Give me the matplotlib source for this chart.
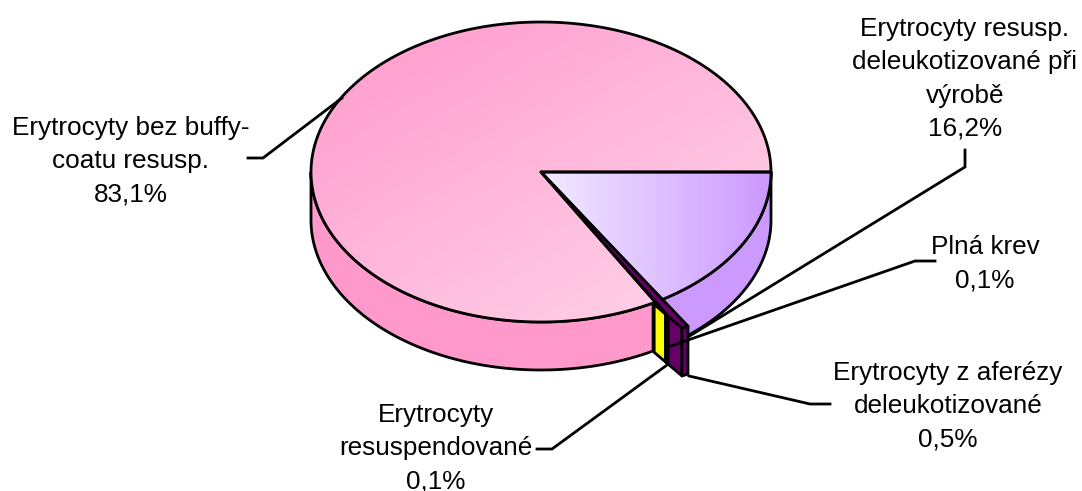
import matplotlib
matplotlib.use("Agg")
import matplotlib.pyplot as plt
from matplotlib.colors import LinearSegmentedColormap
from matplotlib.patches import Polygon
import numpy as np

plt.rcParams["font.family"] = ["Liberation Sans", "DejaVu Sans"]

# clockwise from 3 o'clock, in percent
slice_names = ["deleukotizovane", "plna krev", "afereza", "resuspendovane", "bez buffy-coatu"]
slice_values = [16.2, 0.1, 0.5, 0.1, 83.1]

labels = [
    "Erytrocyty bez buffy-\ncoatu resusp.\n83,1%",
    "Erytrocyty resusp.\ndeleukotizované při\nvýrobě\n16,2%",
    "Plná krev\n0,1%",
    "Erytrocyty z aferézy\ndeleukotizované\n0,5%",
    "Erytrocyty\nresuspendované\n0,1%",
]
label_xy = [(131, 161), (965, 79), (985, 264), (948, 406), (436, 448)]

leaders = [
    [(248, 158), (263, 158), (342, 98)],
    [(965, 150), (965, 167), (688, 337)],
    [(935, 261), (915, 261), (668, 347)],
    [(830, 404), (810, 404), (689, 376)],
    [(537, 449), (552, 449), (667, 365)],
]

CX, CY = 541, 172
RX, RY = 230, 150
DEPTH = 48
EDGE = 2.0


def rim(angle, scale=1.0):
    """Point on the top ellipse, angle in degrees clockwise from east."""
    t = np.radians(angle)
    return np.array([CX + scale * RX * np.cos(t), CY + scale * RY * np.sin(t)])


def arc(a0, a1):
    return [rim(a) for a in np.linspace(a0, a1, 200)]


def drop(points):
    return [(x, y + DEPTH) for x, y in points]


def wall(ax, points, color, z):
    poly = list(points) + drop(points)[::-1]
    ax.add_patch(Polygon(poly, closed=True, fc=color, ec="black", lw=EDGE, joinstyle="round", zorder=z))


def gradient_patch(ax, poly, stops, direction, z):
    """Fill a polygon with a linear gradient, then stroke its outline."""
    cmap = LinearSegmentedColormap.from_list("grad", stops)
    xs, ys = np.array(poly).T
    x0, x1, y0, y1 = xs.min(), xs.max(), ys.min(), ys.max()
    gx, gy = np.meshgrid(np.linspace(0, 1, 300), np.linspace(0, 1, 300))
    grid = (direction[0] * gx + direction[1] * gy) / (direction[0] + direction[1])
    im = ax.imshow(grid, extent=(x0, x1, y1, y0), cmap=cmap, aspect="auto", zorder=z, interpolation="bilinear")
    outline = Polygon(poly, closed=True, fc="none", ec="black", lw=EDGE, joinstyle="round", zorder=z + 0.1)
    ax.add_patch(outline)
    im.set_clip_path(outline)


def main():
    fig = plt.figure(figsize=(10.82, 4.91), dpi=100)
    ax = fig.add_axes([0, 0, 1, 1])

    bounds = np.cumsum(slice_values) * 3.6
    b_lav, b_plna, b_afer, b_resp = bounds[:4]
    center = np.array([CX, CY])

    # the thin slices stick out past the rim in the original
    start = rim(b_resp, 1.01)
    tip_a = rim(b_plna + 0.8, 1.207)
    tip_b = rim(b_lav - 0.2, 1.21)
    yellow_end = start + 0.41 * (tip_a - start)
    olive_end = start + 0.51 * (tip_a - start)

    wall(ax, arc(b_resp, 180), "#ff99cc", 1)
    wall(ax, arc(0, b_lav), "#cc99ff", 1)
    wall(ax, [start, yellow_end], "#ffff00", 2)
    wall(ax, [yellow_end, olive_end], "#999900", 2)
    wall(ax, [olive_end, tip_a], "#660066", 2)
    wall(ax, [tip_a, tip_b], "#660066", 2)

    pink_top = [center] + [yellow_end, start] + arc(b_resp, 360)
    gradient_patch(ax, pink_top, ["#ff99cc", "#ffd6ea"], (0.9, 1), 3)
    lav_top = [center] + arc(0, b_lav)
    gradient_patch(ax, lav_top, ["#f2eaff", "#cc99ff"], (1, 0), 3)

    ax.add_patch(Polygon([center, olive_end, yellow_end], closed=True, fc="#ffff00", ec="black", lw=EDGE * 0.7, zorder=4))
    ax.add_patch(Polygon([center, tip_b, tip_a, olive_end], closed=True, fc="#660066", ec="black", lw=EDGE, joinstyle="round", zorder=4))

    for line in leaders:
        xs, ys = zip(*line)
        ax.plot(xs, ys, color="black", lw=EDGE, solid_joinstyle="miter", zorder=5)

    for text, (x, y) in zip(labels, label_xy):
        ax.text(x, y, text, ha="center", va="center", fontsize=18.8, linespacing=1.48, color="black", zorder=6)

    ax.set_xlim(0, 1082)
    ax.set_ylim(491, 0)
    ax.axis("off")
    fig.savefig("out.png", dpi=100, facecolor="white")
    plt.close(fig)


if __name__ == "__main__":
    main()
